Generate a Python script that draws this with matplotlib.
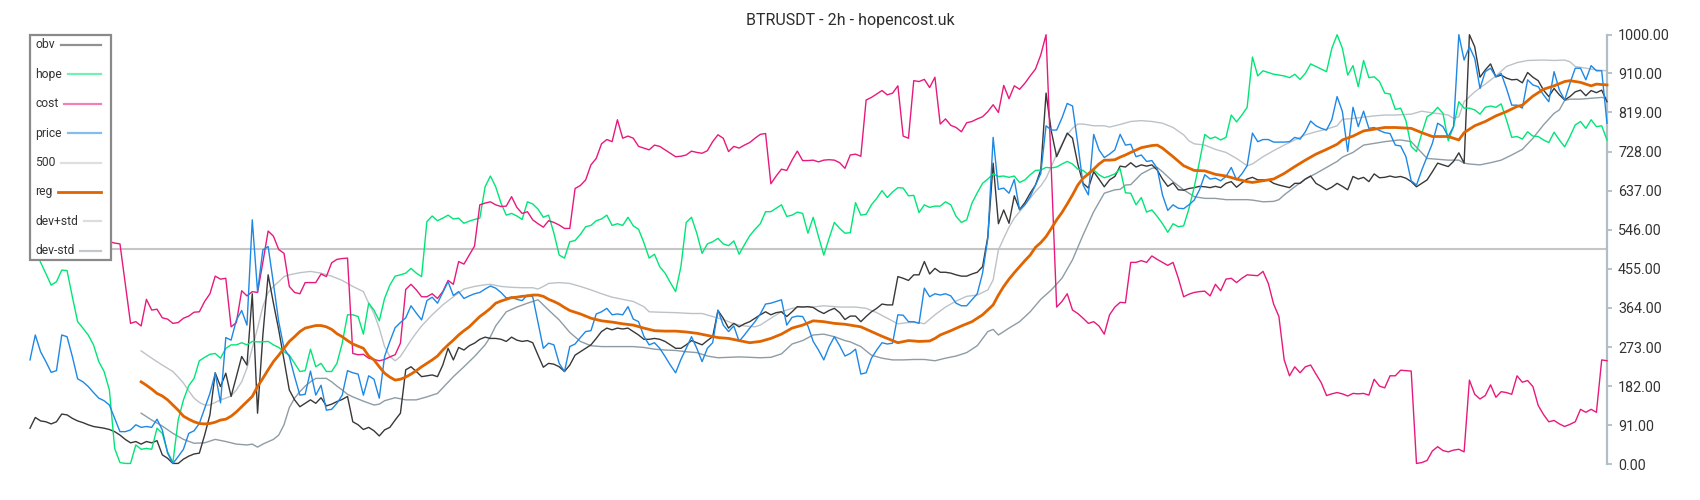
import numpy as np
import matplotlib
matplotlib.use("Agg")
import matplotlib.pyplot as plt
from matplotlib.lines import Line2D
from matplotlib.patches import Rectangle
from matplotlib.ticker import StrMethodFormatter

plt.rcParams['font.family'] = ['Roboto', 'DejaVu Sans']

# ===============================
# 1. DATA (one value per 2h candle)
# ===============================

title = "BTRUSDT - 2h - hopencost.uk"

obv = [
    84, 109, 101, 99, 94, 99, 117, 115, 107, 101,
    97, 92, 88, 86, 84, 81, 76, 68, 58, 50,
    53, 47, 53, 50, 55, 22, 14, 2, 2, 12,
    19, 24, 26, 68, 115, 213, 181, 212, 158, 204,
    251, 231, 397, 119, 300, 441, 375, 313, 243, 173,
    150, 134, 142, 150, 142, 155, 136, 140, 146, 151,
    158, 99, 92, 81, 86, 78, 66, 80, 86, 103,
    119, 220, 227, 216, 204, 206, 208, 204, 231, 270,
    243, 272, 266, 276, 282, 291, 296, 293, 293, 291,
    286, 296, 289, 286, 288, 283, 254, 226, 235, 233,
    227, 216, 231, 254, 262, 270, 278, 293, 309, 317,
    313, 317, 315, 317, 309, 301, 291, 291, 293, 291,
    286, 278, 270, 270, 278, 288, 283, 278, 288, 297,
    358, 340, 317, 328, 320, 327, 332, 340, 348, 355,
    348, 353, 355, 344, 355, 367, 366, 367, 365, 357,
    351, 358, 363, 353, 337, 345, 345, 332, 344, 355,
    363, 373, 371, 371, 437, 433, 428, 441, 441, 472,
    443, 456, 447, 447, 445, 441, 438, 438, 443, 447,
    460, 530, 701, 560, 592, 561, 625, 593, 609, 631,
    650, 685, 864, 775, 716, 743, 771, 759, 699, 654,
    643, 681, 664, 646, 662, 670, 694, 692, 702, 692,
    697, 694, 697, 685, 664, 647, 655, 639, 638, 642,
    644, 647, 646, 644, 647, 644, 654, 658, 645, 655,
    664, 668, 662, 662, 662, 654, 650, 647, 644, 654,
    654, 664, 671, 654, 647, 639, 645, 654, 647, 639,
    670, 664, 668, 658, 676, 667, 668, 671, 668, 670,
    666, 658, 646, 654, 662, 681, 701, 697, 693, 705,
    725, 701, 1000, 972, 901, 918, 932, 902, 906, 899,
    895, 896, 888, 912, 901, 893, 871, 856, 875, 860,
    848, 856, 867, 871, 858, 870, 865, 871, 844,
]

hope = [
    520, 500, 470, 444, 417, 425, 452, 451, 390, 332,
    317, 301, 278, 239, 216, 173, 37, 4, 2, 2,
    45, 35, 37, 35, 84, 72, 29, 4, 103, 150,
    183, 200, 241, 249, 256, 258, 247, 270, 278, 278,
    283, 278, 286, 285, 285, 286, 278, 272, 262, 254,
    235, 216, 218, 268, 227, 235, 216, 216, 235, 282,
    348, 348, 344, 303, 375, 359, 334, 386, 417, 438,
    441, 445, 456, 445, 437, 565, 578, 567, 573, 580,
    571, 573, 561, 566, 570, 573, 646, 671, 646, 608,
    580, 584, 578, 570, 611, 606, 594, 575, 580, 538,
    487, 480, 518, 521, 535, 553, 556, 567, 571, 580,
    556, 560, 556, 575, 555, 547, 516, 480, 489, 460,
    445, 423, 402, 460, 563, 575, 538, 491, 513, 518,
    526, 513, 509, 520, 489, 511, 532, 547, 560, 588,
    588, 596, 604, 577, 580, 587, 584, 538, 575, 530,
    487, 526, 563, 549, 538, 539, 609, 580, 582, 604,
    619, 637, 621, 634, 644, 643, 625, 626, 586, 604,
    598, 601, 601, 611, 604, 577, 563, 569, 608, 632,
    654, 664, 676, 670, 671, 668, 671, 656, 662, 674,
    684, 685, 691, 690, 692, 699, 705, 699, 687, 684,
    674, 685, 674, 667, 671, 676, 688, 632, 631, 604,
    621, 587, 592, 577, 560, 540, 560, 553, 555, 595,
    645, 705, 768, 758, 762, 755, 761, 813, 797, 813,
    831, 948, 904, 916, 912, 908, 906, 904, 900, 908,
    896, 910, 932, 926, 920, 914, 968, 1000, 968, 906,
    928, 879, 940, 900, 902, 891, 864, 862, 826, 829,
    800, 740, 728, 770, 809, 817, 831, 817, 753, 786,
    844, 829, 829, 825, 815, 831, 834, 831, 839, 802,
    761, 763, 757, 774, 764, 763, 755, 749, 773, 755,
    739, 763, 790, 798, 782, 802, 786, 788, 755,
]

cost = [
    520, 522, 518, 515, 520, 525, 522, 518, 520, 516,
    514, 518, 520, 517, 516, 518, 515, 513, 420, 328,
    332, 322, 384, 359, 361, 341, 338, 328, 330, 340,
    345, 354, 355, 379, 397, 438, 431, 433, 320, 330,
    404, 392, 402, 400, 470, 543, 531, 500, 491, 414,
    400, 397, 423, 423, 423, 443, 437, 469, 477, 479,
    480, 258, 255, 256, 247, 244, 241, 244, 250, 255,
    282, 407, 419, 406, 390, 390, 397, 386, 402, 428,
    419, 472, 466, 487, 508, 604, 608, 611, 604, 600,
    601, 623, 598, 584, 588, 569, 560, 552, 567, 563,
    557, 549, 549, 642, 649, 662, 697, 712, 746, 756,
    751, 802, 759, 764, 759, 740, 736, 732, 743, 740,
    732, 724, 716, 717, 720, 729, 726, 724, 730, 751,
    767, 759, 728, 740, 736, 743, 749, 759, 768, 770,
    653, 671, 687, 684, 708, 729, 707, 707, 708, 704,
    708, 709, 708, 702, 689, 720, 722, 717, 848, 854,
    862, 870, 860, 864, 881, 764, 759, 893, 891, 896,
    877, 901, 792, 804, 789, 784, 774, 795, 798, 804,
    809, 821, 837, 819, 882, 851, 881, 873, 887, 904,
    920, 953, 1000, 683, 366, 379, 397, 359, 351, 340,
    328, 332, 322, 303, 348, 366, 377, 376, 470, 470,
    474, 470, 485, 477, 470, 463, 470, 433, 390, 396,
    400, 402, 403, 392, 419, 404, 431, 433, 423, 433,
    441, 440, 439, 449, 421, 373, 344, 243, 206, 227,
    213, 227, 231, 210, 190, 160, 164, 167, 164, 159,
    165, 164, 165, 161, 198, 182, 178, 206, 206, 219,
    218, 217, 2, 4, 9, 31, 41, 32, 29, 33,
    35, 29, 196, 163, 152, 160, 185, 156, 169, 167,
    163, 206, 191, 195, 181, 137, 116, 99, 102, 94,
    88, 93, 99, 128, 121, 128, 121, 243, 241,
]

price = [
    243, 301, 262, 239, 214, 218, 301, 297, 251, 199,
    192, 181, 167, 154, 148, 138, 107, 76, 76, 80,
    92, 86, 88, 86, 105, 80, 26, 2, 18, 35,
    72, 78, 95, 130, 165, 212, 143, 295, 289, 336,
    358, 324, 569, 402, 499, 507, 421, 332, 270, 251,
    204, 161, 163, 217, 161, 184, 126, 128, 142, 161,
    218, 213, 210, 161, 206, 198, 154, 251, 286, 318,
    330, 341, 369, 352, 336, 381, 389, 375, 400, 425,
    393, 402, 386, 392, 397, 400, 408, 415, 410, 400,
    387, 389, 384, 381, 394, 390, 330, 270, 282, 278,
    235, 216, 274, 280, 295, 309, 311, 350, 355, 363,
    348, 350, 348, 367, 338, 332, 298, 278, 283, 270,
    251, 231, 213, 244, 270, 297, 270, 239, 270, 283,
    359, 324, 309, 322, 286, 301, 317, 332, 350, 373,
    375, 379, 383, 324, 342, 345, 344, 322, 286, 266,
    243, 274, 297, 276, 252, 258, 268, 210, 213, 247,
    266, 283, 280, 282, 348, 347, 332, 332, 328, 410,
    390, 397, 394, 397, 392, 375, 369, 369, 383, 397,
    445, 526, 761, 640, 643, 631, 663, 592, 604, 623,
    650, 677, 788, 778, 778, 806, 840, 834, 746, 650,
    627, 768, 732, 714, 722, 732, 768, 743, 745, 716,
    720, 705, 707, 689, 627, 591, 604, 596, 595, 604,
    615, 639, 674, 664, 666, 660, 670, 691, 662, 676,
    695, 771, 751, 756, 756, 750, 750, 750, 751, 761,
    757, 774, 799, 788, 782, 778, 802, 856, 821, 728,
    831, 786, 822, 782, 784, 777, 772, 770, 743, 741,
    716, 660, 650, 685, 716, 747, 794, 786, 763, 786,
    1000, 941, 972, 945, 875, 914, 922, 902, 910, 875,
    836, 836, 829, 895, 883, 879, 860, 844, 914, 871,
    848, 887, 922, 922, 895, 928, 916, 916, 794,
]

level = 500

# regression line and bands start later (rolling window)
reg_x = [
    21, 22, 23, 24, 25, 26, 27, 28, 29, 30, 31, 32, 33, 34, 35, 36, 37, 38, 39, 40,
    41, 42, 43, 44, 45, 46, 47, 48, 49, 50, 51, 52, 53, 54, 55, 56, 57, 58, 59, 60,
    61, 62, 63, 64, 65, 66, 67, 68, 69, 70, 71, 72, 73, 74, 75, 76, 77, 78, 79, 80,
    81, 82, 83, 84, 85, 86, 87, 88, 89, 90, 91, 92, 93, 94, 95, 96, 97, 98, 99, 100,
    101, 102, 104, 106, 108, 110, 112, 114, 116, 118, 120, 122, 124, 126, 128, 130,
    132, 134, 136, 138, 140, 142, 144, 146, 148, 150, 152, 154, 157, 159, 161, 163,
    164, 166, 168, 170, 171, 172, 174, 176, 178, 180, 182, 183, 184, 185, 186, 187,
    188, 189, 190, 191, 192, 193, 194, 195, 196, 197, 198, 199, 200, 201, 202, 203,
    204, 205, 206, 207, 208, 210, 212, 213, 214, 216, 218, 220, 222, 224, 226, 228,
    230, 231, 233, 235, 237, 239, 241, 243, 245, 247, 248, 250, 252, 254, 256, 258,
    261, 263, 265, 267, 268, 269, 270, 271, 273, 275, 277, 279, 281, 282, 284, 286,
    288, 290, 291, 293, 295, 296, 298,
]
reg_y = [
    192, 184, 175, 165, 159, 150, 138, 126, 112, 105, 99, 95, 94, 95, 98, 103, 105, 112, 122, 134,
    146, 158, 181, 200, 220, 239, 254, 270, 286, 297, 309, 317, 320, 323, 323, 320, 314, 304, 297, 288,
    280, 275, 270, 252, 243, 227, 212, 203, 196, 198, 203, 210, 218, 227, 235, 243, 252, 266, 278, 289,
    301, 311, 320, 332, 344, 353, 363, 375, 380, 384, 388, 389, 391, 392, 394, 394, 391, 384, 379, 373,
    365, 358, 350, 340, 334, 331, 327, 324, 317, 311, 310, 310, 308, 305, 300, 295,
    293, 288, 283, 286, 293, 303, 317, 324, 334, 332, 328, 326, 320, 309, 298, 288,
    283, 288, 286, 287, 293, 301, 311, 322, 332, 348, 371, 394, 414, 431, 446, 460,
    474, 487, 505, 516, 530, 549, 569, 586, 606, 627, 650, 666, 676, 687, 699, 708,
    708, 709, 715, 720, 726, 737, 742, 743, 736, 716, 695, 684, 683, 675, 671, 664,
    658, 656, 660, 664, 677, 693, 708, 722, 733, 745, 755, 764, 776, 780, 784, 784,
    782, 772, 763, 763, 763, 759, 755, 772, 788, 798, 811, 821, 833, 836, 857, 873,
    881, 891, 893, 889, 881, 885, 883,
]

dev_plus_x = [
    21, 23, 25, 27, 28, 29, 30, 31, 32, 33, 34, 35, 36, 37, 38, 39, 40, 41, 42, 43,
    44, 45, 46, 47, 48, 49, 51, 53, 55, 57, 59, 61, 63, 64, 65, 66, 67, 68, 69, 70,
    71, 72, 73, 74, 76, 78, 80, 82, 84, 86, 87, 89, 91, 93, 95, 96, 97, 98, 100, 102,
    104, 106, 108, 110, 112, 114, 116, 117, 119, 122, 125, 127, 129, 131, 133, 135,
    137, 138, 140, 142, 144, 146, 148, 150, 152, 153, 156, 158, 160, 162, 164, 166,
    168, 169, 171, 173, 175, 177, 179, 181, 182, 183, 184, 185, 186, 187, 188, 189,
    190, 191, 192, 193, 194, 195, 196, 197, 198, 199, 201, 203, 204, 206, 208, 210,
    212, 214, 216, 218, 219, 220, 222, 224, 226, 228, 230, 231, 233, 235, 237, 239,
    241, 243, 245, 247, 248, 250, 252, 254, 256, 258, 261, 263, 265, 267, 268, 269,
    270, 271, 273, 275, 277, 279, 281, 283, 286, 288, 290, 291, 292, 294, 296, 298,
]
dev_plus_y = [
    264, 247, 231, 216, 203, 189, 171, 154, 144, 138, 138, 144, 150, 154, 159, 173, 192, 224, 270, 317,
    367, 400, 414, 425, 437, 441, 446, 449, 445, 438, 428, 414, 402, 375, 351, 317, 274, 251, 241, 251,
    270, 289, 306, 322, 348, 371, 390, 408, 414, 418, 419, 414, 412, 411, 411, 408, 414, 421, 423, 421,
    414, 406, 397, 389, 384, 379, 367, 355, 354, 353, 351, 351, 344, 337, 327, 322,
    320, 324, 340, 355, 363, 367, 366, 369, 367, 366, 366, 363, 353, 340, 327, 330,
    330, 327, 348, 366, 380, 391, 394, 406, 429, 499, 526, 552, 573, 588, 604, 619,
    635, 648, 666, 693, 722, 745, 767, 782, 792, 792, 788, 788, 785, 791, 798, 800,
    798, 794, 784, 767, 753, 746, 743, 733, 726, 712, 695, 699, 716, 730, 743, 755,
    767, 774, 780, 788, 803, 805, 808, 811, 813, 813, 815, 822, 818, 815, 813, 805,
    809, 844, 867, 885, 904, 926, 935, 940, 941, 940, 941, 937, 926, 922, 918, 916,
]

dev_minus_x = [
    21, 23, 25, 27, 29, 31, 33, 35, 37, 39, 41, 42, 43, 44, 46, 47, 48, 49, 50, 51,
    52, 53, 54, 56, 57, 58, 59, 60, 61, 63, 65, 66, 67, 69, 71, 73, 75, 77, 78, 80,
    82, 84, 86, 87, 88, 90, 92, 94, 96, 98, 100, 102, 104, 106, 108, 110, 112, 114, 116, 118,
    120, 122, 124, 126, 128, 130, 132, 134, 136, 138, 140, 142, 144, 146, 148, 150,
    152, 154, 155, 157, 159, 161, 163, 165, 167, 169, 171, 173, 175, 177, 179, 181,
    182, 183, 185, 187, 189, 191, 193, 195, 197, 199, 201, 203, 205, 206, 207, 208,
    210, 212, 213, 214, 216, 218, 220, 222, 224, 226, 228, 230, 231, 233, 235, 236,
    237, 239, 241, 243, 245, 247, 248, 250, 252, 254, 256, 258, 259, 261, 263, 264,
    266, 268, 270, 271, 272, 274, 276, 278, 280, 282, 284, 286, 288, 289, 290, 291,
    293, 295, 297, 298,
]
dev_minus_y = [
    119, 103, 89, 72, 58, 49, 50, 58, 53, 47, 45, 47, 40, 47, 58, 68, 92, 132, 154, 169,
    182, 192, 200, 200, 192, 182, 173, 163, 157, 147, 138, 140, 148, 155, 150, 150, 157, 165, 178, 204,
    227, 251, 278, 297, 322, 355, 366, 375, 383, 359, 336, 307, 286, 276, 274, 274, 274, 274, 272, 268,
    266, 265, 262, 260, 252, 248, 249, 250, 249, 248, 249, 257, 280, 288, 301, 303,
    297, 288, 285, 274, 254, 247, 243, 243, 244, 244, 241, 247, 252, 260, 276, 309,
    314, 301, 317, 332, 355, 384, 406, 433, 476, 534, 588, 631, 639, 640, 650, 651,
    676, 689, 691, 681, 658, 639, 623, 619, 619, 616, 616, 616, 615, 611, 612, 616,
    627, 646, 664, 677, 691, 705, 715, 726, 743, 747, 751, 754, 755, 751, 725, 712,
    710, 708, 708, 701, 699, 697, 702, 708, 720, 733, 759, 790, 817, 825, 847, 850,
    850, 852, 854, 852,
]

y_ticks = [0, 91, 182, 273, 364, 455, 546, 637, 728, 819, 910, 1000]

# ===============================
# 2. STYLE
# ===============================

colors = {
    "obv": "#383838",
    "hope": "#00e676",
    "cost": "#e8197c",
    "price": "#1e88e5",
    "500": "#c6c6c6",
    "reg": "#e06400",
    "dev+std": "#bcc3c8",
    "dev-std": "#8e9ca5",
}

W, H = 1700, 500
fig = plt.figure(figsize=(W / 100, H / 100), dpi=100)
ax = fig.add_axes([30 / W, (H - 464.3) / H, (1607 - 30) / W, (464.3 - 34.7) / H])

# ===============================
# 3. LINES
# ===============================

ax.axhline(level, color=colors["500"], lw=1.5, zorder=1)
ax.plot(dev_plus_x, dev_plus_y, color=colors["dev+std"], lw=1.0, zorder=2, clip_on=False)
ax.plot(dev_minus_x, dev_minus_y, color=colors["dev-std"], lw=1.0, zorder=2, clip_on=False)
ax.plot(np.arange(len(obv)), obv, color=colors["obv"], lw=1.0, zorder=3, clip_on=False)
ax.plot(np.arange(len(hope)), hope, color=colors["hope"], lw=1.0, zorder=3, clip_on=False)
ax.plot(np.arange(len(cost)), cost, color=colors["cost"], lw=1.0, zorder=3, clip_on=False)
ax.plot(np.arange(len(price)), price, color=colors["price"], lw=1.0, zorder=4, clip_on=False)
ax.plot(reg_x, reg_y, color=colors["reg"], lw=2.0, zorder=5, clip_on=False)

ax.set_xlim(0, len(obv) - 1)
ax.set_ylim(0, 1000)

# ===============================
# 4. AXES
# ===============================

for side in ["left", "top", "bottom"]:
    ax.spines[side].set_visible(False)
ax.spines["right"].set_color("#b0bec5")
ax.spines["right"].set_linewidth(1.6)

ax.set_xticks([])
ax.yaxis.tick_right()
ax.set_yticks(y_ticks)
ax.yaxis.set_major_formatter(StrMethodFormatter("{x:.2f}"))
ax.tick_params(axis="y", direction="out", length=3.8, width=1.3, color="#b0bec5",
               pad=4.2, labelsize=10.3, labelcolor="#333333")

fig.text(0.5, 1 - 21 / H, title, ha="center", va="center", fontsize=11.5, color="#2e2e2e")

# ===============================
# 5. LEGEND (label left, line right)
# ===============================

def fx(px):
    return px / W

def fy(py):
    return 1 - py / H

box = Rectangle((fx(30), fy(260)), 81 / W, 225 / H, transform=fig.transFigure,
                facecolor="white", edgecolor="#8a8a8a", linewidth=1.6, zorder=10)
fig.add_artist(box)

renderer = fig.canvas.get_renderer()
labels = ["obv", "hope", "cost", "price", "500", "reg", "dev+std", "dev-std"]
for k, lab in enumerate(labels):
    yy = fy(45 + k * 29.4)
    t = fig.text(fx(35), yy, lab, ha="left", va="center", fontsize=8.7,
                 color="#333333", zorder=11)
    bb = t.get_window_extent(renderer)
    lw = 2.0 if lab == "reg" else 1.6
    alpha = 1.0 if lab == "reg" else 0.55
    fig.add_artist(Line2D([fx(bb.x1 + 6), fx(101)], [yy, yy], transform=fig.transFigure,
                          color=colors[lab], lw=lw, alpha=alpha, zorder=11))

fig.savefig("out.png", dpi=100)
